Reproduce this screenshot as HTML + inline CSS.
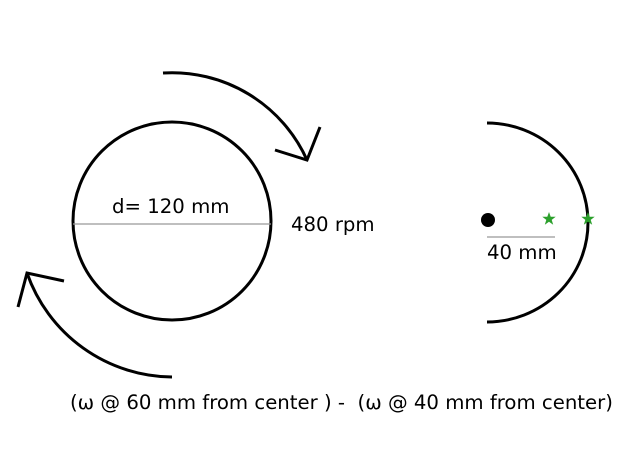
<!DOCTYPE html>
<html><head><meta charset="utf-8"><style>
html,body{margin:0;padding:0;background:#fff;}
svg{display:block;}
text{font-family:"DejaVu Sans","Liberation Sans",sans-serif;font-size:19.7px;fill:#000;}
</style></head><body>
<svg width="637" height="450" viewBox="0 0 637 450">
<circle cx="172" cy="221" r="99" fill="none" stroke="#000" stroke-width="3"/>
<line x1="73" y1="224" x2="271" y2="224" stroke="#999" stroke-width="1.3"/>
<text x="112" y="213">d= 120 mm</text>
<text x="291" y="231">480 rpm</text>
<path d="M163 73 A148 148 0 0 1 307 160" fill="none" stroke="#000" stroke-width="3"/>
<polyline points="275,150 307,160 320,127" fill="none" stroke="#000" stroke-width="3"/>
<path d="M172 377 A155 155 0 0 1 27 273" fill="none" stroke="#000" stroke-width="3"/>
<polyline points="18,307 27,273 64,281" fill="none" stroke="#000" stroke-width="3"/>
<path d="M487 123 A101 99.5 0 0 1 588 222.5 A101 99.5 0 0 1 487 322" fill="none" stroke="#000" stroke-width="3"/>
<circle cx="488" cy="220" r="7" fill="#000"/>
<polygon transform="translate(549,219)" points="0,-7 1.7,-2.2 6.7,-2.2 2.7,0.9 4.2,5.7 0,2.8 -4.2,5.7 -2.7,0.9 -6.7,-2.2 -1.7,-2.2" fill="#2ca02c"/>
<polygon transform="translate(588,219)" points="0,-7 1.7,-2.2 6.7,-2.2 2.7,0.9 4.2,5.7 0,2.8 -4.2,5.7 -2.7,0.9 -6.7,-2.2 -1.7,-2.2" fill="#2ca02c"/>
<line x1="487" y1="237" x2="555" y2="237" stroke="#999" stroke-width="1.3"/>
<text x="487" y="259">40 mm</text>
<text x="70" y="409" style="white-space:pre">(ω @ 60 mm from center ) -  (ω @ 40 mm from center)</text>
</svg>
</body></html>
